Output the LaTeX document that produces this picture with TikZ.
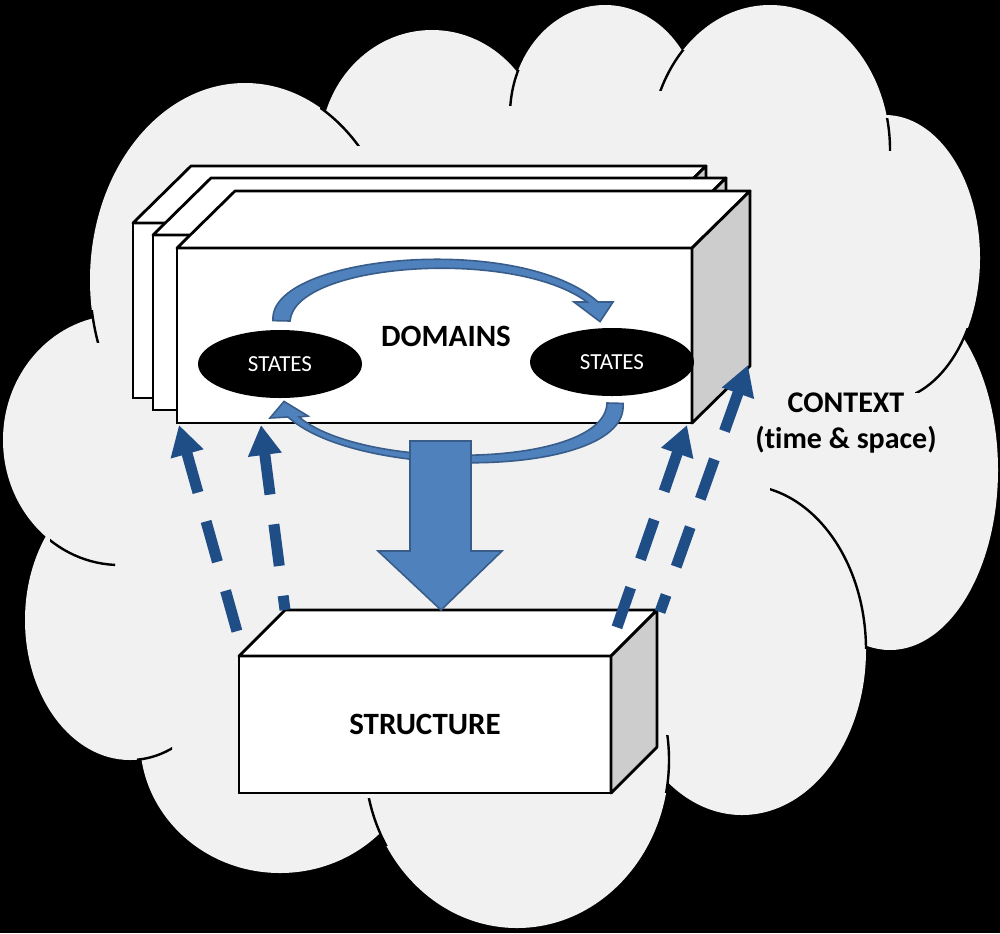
\documentclass[tikz,border=0pt]{standalone}
\usepackage{fontspec}
\setmainfont{Carlito}[Ligatures={NoCommon}]
\usetikzlibrary{positioning, arrows.meta, calc, shapes.geometric}
\definecolor{cloudFill}{RGB}{241, 241, 241}
\definecolor{boxSide}{RGB}{205, 205, 205}
\definecolor{flowBlue}{RGB}{79, 129, 189}
\definecolor{flowEdge}{RGB}{56, 93, 138}
\definecolor{linkBlue}{RGB}{31, 78, 135}

\begin{document}
\begin{tikzpicture}[
    x=0.5pt, y=-0.5pt,
    font=\bfseries,
    lobe/.style={fill=cloudFill},
    lobeline/.style={draw=black, line width=1.2pt},
    face/.style={
        draw=black,
        fill=white,
        rectangle,
        line width=1.4pt,
        inner sep=0pt,
        outer sep=0pt,
        anchor=north west
    },
    slab/.style={face, minimum width=257.5pt, minimum height=87.5pt},
    topside/.style={draw=black, fill=white, line width=1.4pt, line join=round},
    endside/.style={draw=black, fill=boxSide, line width=1.4pt, line join=round},
    state/.style={
        ellipse,
        fill=black,
        inner sep=0pt,
        minimum width=82pt,
        minimum height=34pt,
        font=\fontsize{11.5}{13}\selectfont\mdseries\color{white}
    },
    caption/.style={align=center, text=black},
    flow/.style={draw=flowEdge, fill=flowBlue, line width=0.8pt, line join=miter},
    link/.style={
        draw=linkBlue,
        line width=5.5pt,
        dash pattern=on 21pt off 15pt,
        {Triangle[length=15pt, width=16pt]}-
    }
]

\useasboundingbox (0,0) rectangle (1000,933);
\fill[black] (0,0) rectangle (1000,933);

% ================= CONTEXT CLOUD =================
\fill[lobe] (245,280) ellipse [x radius=155, y radius=197]
            (432,150) ellipse [x radius=112, y radius=120]
            (605,115) ellipse [x radius=95, y radius=110]
            (770,150) ellipse [x radius=120, y radius=145]
            (885,258) ellipse [x radius=95, y radius=143]
            (890,470) ellipse [x radius=108, y radius=180]
            (742,650) ellipse [x radius=124, y radius=165]
            (517,760) ellipse [x radius=152, y radius=168]
            (280,740) ellipse [x radius=140, y radius=133]
            (130,620) ellipse [x radius=105, y radius=140]
            (120,440) ellipse [x radius=117, y radius=125]
            (500,450) ellipse [x radius=380, y radius=320];

% inner folds of the cloud
\begin{scope} \clip (82,310) rectangle (105,342); \draw[lobeline] (245,280) ellipse [x radius=155, y radius=197]; \end{scope}
\begin{scope} \clip (320,108) rectangle (360,145); \draw[lobeline] (245,280) ellipse [x radius=155, y radius=197]; \end{scope}
\begin{scope} \clip (500,70) rectangle (522,105); \draw[lobeline] (605,115) ellipse [x radius=95, y radius=110]; \end{scope}
\begin{scope} \clip (655,50) rectangle (692,90); \draw[lobeline] (770,150) ellipse [x radius=120, y radius=145]; \end{scope}
\begin{scope} \clip (875,118) rectangle (900,150); \draw[lobeline] (770,150) ellipse [x radius=120, y radius=145]; \end{scope}
\begin{scope} \clip (915,328) rectangle (975,392); \draw[lobeline] (885,258) ellipse [x radius=95, y radius=143]; \end{scope}
\begin{scope} \clip (770,480) rectangle (880,648); \draw[lobeline] (742,650) ellipse [x radius=124, y radius=165]; \end{scope}
\begin{scope} \clip (650,735) rectangle (685,792); \draw[lobeline] (517,760) ellipse [x radius=152, y radius=168]; \end{scope}
\begin{scope} \clip (355,798) rectangle (392,845); \draw[lobeline] (517,760) ellipse [x radius=152, y radius=168]; \end{scope}
\begin{scope} \clip (137,740) rectangle (172,765); \draw[lobeline] (130,620) ellipse [x radius=105, y radius=140]; \end{scope}
\begin{scope} \clip (50,530) rectangle (115,570); \draw[lobeline] (120,440) ellipse [x radius=117, y radius=125]; \end{scope}

% ================= DOMAIN SLABS =================
\node[slab] (layerA) at (133,223) {};
\draw[topside] (layerA.north west) -- ++(58,-57) -- ++(515,0) -- (layerA.north east) -- cycle;
\draw[endside] (layerA.north east) -- ++(58,-57) -- ++(0,175) -- (layerA.south east) -- cycle;

\node[slab] (layerB) at (153,235) {};
\draw[topside] (layerB.north west) -- ++(58,-57) -- ++(515,0) -- (layerB.north east) -- cycle;
\draw[endside] (layerB.north east) -- ++(58,-57) -- ++(0,175) -- (layerB.south east) -- cycle;

\node[slab] (domains) at (177,248) {};
\draw[topside] (domains.north west) -- ++(58,-57) -- ++(515,0) -- (domains.north east) -- cycle;
\draw[endside] (domains.north east) -- ++(58,-57) -- ++(0,175) -- (domains.south east) -- cycle;

\node[caption, font=\fontsize{15.5}{18}\selectfont\bfseries] (domlabel) at (446,336) {DOMAINS};

\node[state] (stateL) at (280,364) {STATES};
\node[state] (stateR) at (612,362) {STATES};

% state cycle
\draw[flow] ($(stateL.north)+(-7,-9)$) .. controls (268,255) and (520,232) .. (598,302)
    -- (613,302) -- ($(stateR.north)+(-12,-6)$) -- (574,302) -- (587,302)
    .. controls (515,248) and (295,262) .. (290,321) -- cycle;
\draw[flow] ($(stateR.south)+(11,7)$) .. controls (630,478) and (360,482) .. (288,417)
    -- (270,418) -- ($(stateL.south)+(4,3)$) -- (308,416) -- (299,417)
    .. controls (365,472) and (605,468) .. (607,403) -- cycle;

% ================= STRUCTURE =================
\node[face, minimum width=186pt, minimum height=68.5pt,
      font=\fontsize{15.5}{18}\selectfont\bfseries] (structure) at (239,656) {STRUCTURE};
\draw[topside] (structure.north west) -- ++(46,-46) -- ++(372,0) -- (structure.north east) -- cycle;
\draw[endside] (structure.north east) -- ++(46,-46) -- ++(0,137) -- (structure.south east) -- cycle;

% domains shape structure
\coordinate (flowtop) at ($(domains.south)+(6.5,18)$);
\draw[flow] ($(flowtop)+(-31,0)$) -- ++(0,110) -- ++(-32,0) -- ($(structure.north)+(16,-46)$)
    -- ++(61,-59) -- ++(-31,0) -- ($(flowtop)+(30,0)$) -- cycle;

% structure feeds back into domains
\coordinate (l1top) at ($(domains.south west)+(2,2)$);
\coordinate (l1foot) at ($(structure.north west)+(-1,-21)$);
\coordinate (l2top) at ($(domains.south west)+(84,2)$);
\coordinate (l2foot) at ($(structure.north west)+(46,-46)$);
\coordinate (r1top) at ($(domains.south east)+(-5,2)$);
\coordinate (r1foot) at ($(structure.north east)+(5,-26)$);
\coordinate (r2top) at ($(domains.south east)+(56,-58)$);
\coordinate (r2foot) at ($(structure.north east)+(49,-44)$);

\draw[link] (l1top) -- (l1foot);
\draw[link] (l2top) -- (l2foot);
\draw[link] (r1top) -- (r1foot);
\draw[link] (r2top) -- (r2foot);

% ================= CONTEXT =================
\node[caption, font=\fontsize{15}{18}\selectfont\bfseries] (context) at (846,423) {CONTEXT\\(time \& space)};

\end{tikzpicture}
\end{document}
